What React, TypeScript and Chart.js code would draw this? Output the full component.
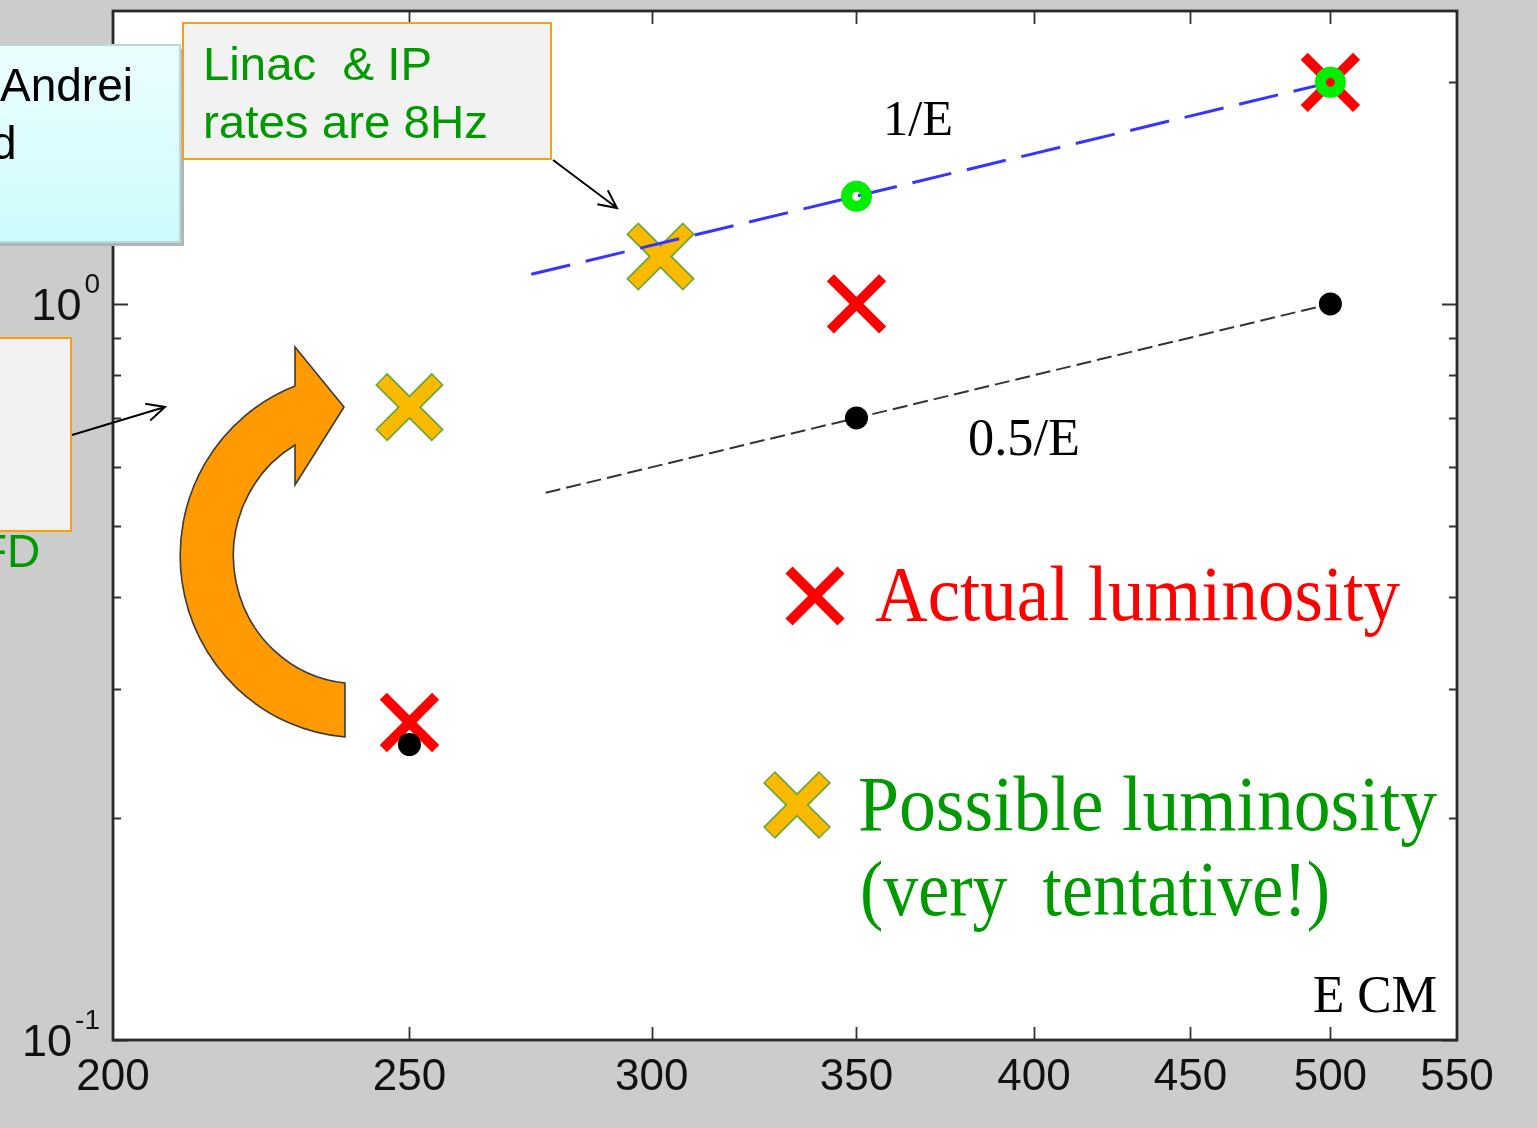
import React, { useEffect, useRef } from "react";
import { Chart, registerables } from "chart.js";

Chart.register(...registerables);

// ---- axis definitions ----
const X_MIN = 200;
const X_MAX = 550;
const Y_MIN = 0.1;
const Y_MAX = 2.5;
const xTickValues = [200, 250, 300, 350, 400, 450, 500, 550];
const xTickLabels = ["200", "250", "300", "350", "400", "450", "500", "550"];
const yMajorTicks = [0.1, 1];
const yMajorExponents = ["-1", "0"];
const yMinorTicks = [0.2, 0.3, 0.4, 0.5, 0.6, 0.7, 0.8, 0.9, 2];

// ---- data ----
const actualE = [250, 350, 500];
const actualLumi = [0.27, 1.0, 2.0];
const dotE = [250, 350, 500];
const dotLumi = [0.252, 0.7, 1.0];
const ringE = [350, 500];
const ringLumi = [1.4, 2.0];
const possibleE = [250, 302];
const possibleLumi = [0.724, 1.16];
const invLineE = [274, 500];
const invLineLumi = [1.097, 2.0];
const halfLineE = [277, 350, 500];
const halfLineLumi = [0.554, 0.7, 1.0];

const pts = (xs: number[], ys: number[]) => xs.map((x, i) => ({ x, y: ys[i] }));

const SANS = "'Liberation Sans', Arial, sans-serif";
const SERIF = "'Liberation Serif', 'Times New Roman', serif";
const GREEN = "#009a00";

const framePlugin = {
  id: "frame",
  beforeDraw(chart: any) {
    const { ctx, chartArea: a } = chart;
    ctx.save();
    ctx.fillStyle = "#ffffff";
    ctx.fillRect(a.left, a.top, a.right - a.left, a.bottom - a.top);
    ctx.restore();
  },
  afterDraw(chart: any) {
    const { ctx, chartArea: a, scales } = chart;
    const xs = scales.x;
    const ys = scales.y;
    ctx.save();
    ctx.strokeStyle = "#333333";
    ctx.lineWidth = 1.8;
    ctx.beginPath();
    xTickValues.forEach((v) => {
      if (v === X_MIN || v === X_MAX) return;
      const px = Math.round(xs.getPixelForValue(v)) + 0.5;
      ctx.moveTo(px, a.bottom);
      ctx.lineTo(px, a.bottom - 13);
      ctx.moveTo(px, a.top);
      ctx.lineTo(px, a.top + 13);
    });
    yMajorTicks.forEach((v) => {
      const py = Math.round(ys.getPixelForValue(v)) + 0.5;
      ctx.moveTo(a.left, py);
      ctx.lineTo(a.left + 15, py);
      ctx.moveTo(a.right, py);
      ctx.lineTo(a.right - 15, py);
    });
    yMinorTicks.forEach((v) => {
      const py = Math.round(ys.getPixelForValue(v)) + 0.5;
      ctx.moveTo(a.left, py);
      ctx.lineTo(a.left + 8, py);
      ctx.moveTo(a.right, py);
      ctx.lineTo(a.right - 8, py);
    });
    ctx.stroke();

    // frame
    ctx.lineWidth = 2.8;
    ctx.strokeStyle = "#2a2a2a";
    ctx.strokeRect(a.left, a.top, a.right - a.left, a.bottom - a.top);

    // x tick labels
    ctx.fillStyle = "#111111";
    ctx.font = `44px ${SANS}`;
    ctx.textAlign = "center";
    ctx.textBaseline = "alphabetic";
    xTickValues.forEach((v, i) => {
      const px = xs.getPixelForValue(v);
      ctx.fillText(xTickLabels[i], px, a.bottom + 50);
    });

    // y tick labels with superscript exponent
    yMajorTicks.forEach((v, i) => {
      const py = ys.getPixelForValue(v);
      const exp = yMajorExponents[i];
      ctx.font = `28px ${SANS}`;
      const ew = ctx.measureText(exp).width;
      ctx.font = `45px ${SANS}`;
      const bw = ctx.measureText("10").width;
      const right = 100;
      ctx.textAlign = "left";
      ctx.fillText("10", right - ew - bw - 3, py + 16);
      ctx.font = `28px ${SANS}`;
      ctx.fillText(exp, right - ew, py - 11);
    });
    ctx.restore();
  },
};

export default function App() {
  const canvasRef = useRef<HTMLCanvasElement | null>(null);

  useEffect(() => {
    if (!canvasRef.current) return;
    const chart = new Chart(canvasRef.current, {
      type: "scatter",
      data: {
        datasets: [
          {
            label: "0.5/E",
            data: pts(halfLineE, halfLineLumi),
            showLine: true,
            borderColor: "#333333",
            borderWidth: 2,
            borderDash: [15, 6],
            pointRadius: 0,
            order: 20,
          },
          {
            label: "Possible outline",
            data: pts(possibleE, possibleLumi),
            pointStyle: "crossRot",
            pointRadius: 40,
            pointBorderWidth: 17,
            borderColor: "#6aa83a",
            backgroundColor: "#6aa83a",
            order: 9,
          },
          {
            label: "Possible luminosity",
            data: pts(possibleE, possibleLumi),
            pointStyle: "crossRot",
            pointRadius: 38.5,
            pointBorderWidth: 13.5,
            borderColor: "#fbb900",
            backgroundColor: "#fbb900",
            order: 8,
          },
          {
            label: "1/E",
            data: pts(invLineE, invLineLumi),
            showLine: true,
            borderColor: "#3535ff",
            borderWidth: 3,
            borderDash: [40, 16],
            pointRadius: 0,
            order: 7,
          },
          {
            label: "Actual luminosity",
            data: pts(actualE, actualLumi),
            pointStyle: "crossRot",
            pointRadius: 37,
            pointBorderWidth: 10,
            borderColor: "#ff0000",
            backgroundColor: "#ff0000",
            order: 5,
          },
          {
            label: "dots",
            data: pts(dotE, dotLumi),
            pointStyle: "circle",
            pointRadius: 11.5,
            pointBorderWidth: 0,
            borderColor: "#000000",
            backgroundColor: "#000000",
            order: 4,
          },
          {
            label: "rings",
            data: pts(ringE, ringLumi),
            pointStyle: "circle",
            pointRadius: 10,
            pointBorderWidth: 11,
            borderColor: "#00ee00",
            backgroundColor: "rgba(0,0,0,0)",
            order: 3,
          },
        ],
      },
      options: {
        responsive: false,
        animation: false,
        events: [],
        layout: { autoPadding: false, padding: { left: 113, right: 80, top: 11, bottom: 88 } },
        plugins: { legend: { display: false }, tooltip: { enabled: false } },
        scales: {
          x: {
            type: "logarithmic",
            display: false,
            min: X_MIN,
            max: X_MAX,
            afterBuildTicks: (s: any) => {
              s.ticks = xTickValues.map((v) => ({ value: v }));
              s.min = X_MIN;
              s.max = X_MAX;
            },
          },
          y: {
            type: "logarithmic",
            display: false,
            min: Y_MIN,
            max: Y_MAX,
            afterBuildTicks: (s: any) => {
              s.ticks = yMajorTicks.map((v) => ({ value: v }));
              s.min = Y_MIN;
              s.max = Y_MAX;
            },
          },
        },
      },
      plugins: [framePlugin],
    } as any);
    return () => chart.destroy();
  }, []);

  const arrowHead = (x1: number, y1: number, x2: number, y2: number, len: number) => {
    const ang = Math.atan2(y2 - y1, x2 - x1);
    const a1 = ang + Math.PI - 0.45;
    const a2 = ang + Math.PI + 0.45;
    return `M ${x2 + len * Math.cos(a1)} ${y2 + len * Math.sin(a1)} L ${x2} ${y2} L ${x2 + len * Math.cos(a2)} ${y2 + len * Math.sin(a2)}`;
  };

  const xMark = (cx: number, cy: number, h: number) =>
    `M ${cx - h} ${cy - h} L ${cx + h} ${cy + h} M ${cx + h} ${cy - h} L ${cx - h} ${cy + h}`;

  return (
    <div
      style={{
        position: "absolute",
        left: 0,
        top: 0,
        width: 1537,
        height: 1128,
        background: "#cccccc",
        overflow: "hidden",
      }}
    >
      <canvas
        ref={canvasRef}
        width={1537}
        height={1128}
        style={{ position: "absolute", left: 0, top: 0, width: 1537, height: 1128 }}
      />
      <svg
        width={1537}
        height={1128}
        style={{ position: "absolute", left: 0, top: 0 }}
        xmlns="http://www.w3.org/2000/svg"
      >
        <defs>
          <linearGradient id="cyanGrad" x1="0" y1="0" x2="0" y2="1">
            <stop offset="0" stopColor="#edfeff" />
            <stop offset="1" stopColor="#ccfbfc" />
          </linearGradient>
        </defs>

        {/* cyan note box (cropped at left) */}
        <rect x={-10} y={49} width={194} height={197} fill="#b4b4b4" />
        <rect x={-10} y={45} width={190} height={197} fill="url(#cyanGrad)" stroke="#b8d8dc" strokeWidth={2} />
        <text x={0} y={101} fontFamily={SANS} fontSize={46} fill="#000" textLength={133} lengthAdjust="spacingAndGlyphs">Andrei</text>
        <text x={-9} y={159} fontFamily={SANS} fontSize={46} fill="#000">d</text>

        {/* orange note box top */}
        <rect x={183} y={23} width={368} height={136} fill="#f2f2f2" stroke="#ffa000" strokeWidth={2} />
        <text x={203} y={80} fontFamily={SANS} fontSize={46} fill={GREEN} style={{ whiteSpace: "pre" }} textLength={229} lengthAdjust="spacingAndGlyphs">
          Linac  &amp; IP
        </text>
        <text x={203} y={138} fontFamily={SANS} fontSize={46} fill={GREEN} textLength={285} lengthAdjust="spacingAndGlyphs">
          rates are 8Hz
        </text>

        {/* left orange note box */}
        <rect x={-10} y={338} width={81} height={193} fill="#f2f2f2" stroke="#ffa000" strokeWidth={2} />
        <text x={-21} y={567} fontFamily={SANS} fontSize={46} fill={GREEN}>FD</text>

        {/* thin arrows */}
        <path d={`M 553 160 L 617 208 ${arrowHead(553, 160, 617, 208, 20)}`} stroke="#000" strokeWidth={2} fill="none" />
        <path d={`M 72 435 L 165 407 ${arrowHead(72, 435, 165, 407, 20)}`} stroke="#000" strokeWidth={2} fill="none" />

        {/* big orange curved arrow */}
        <path
          d="M 345 737 A 180 182 0 0 1 295 386 L 295 347 L 344 407 L 295 485 L 295 445 A 124 128 0 0 0 345 683 Z"
          fill="#ff9a00"
          stroke="#3a3a3a"
          strokeWidth={1.6}
          strokeLinejoin="miter"
        />

        {/* line labels */}
        <text x={883} y={135} fontFamily={SERIF} fontSize={50} fill="#000" textLength={70} lengthAdjust="spacingAndGlyphs">1/E</text>
        <text x={968} y={455} fontFamily={SERIF} fontSize={52} fill="#000" textLength={112} lengthAdjust="spacingAndGlyphs">0.5/E</text>

        {/* legend */}
        <path d={xMark(815, 596, 26)} stroke="#ff0000" strokeWidth={10} fill="none" />
        <text x={875} y={620} fontFamily={SERIF} fontSize={78} fill="#ff0000" textLength={525} lengthAdjust="spacingAndGlyphs">
          Actual luminosity
        </text>
        <path d={xMark(797, 805, 28)} stroke="#6aa83a" strokeWidth={17} fill="none" />
        <path d={xMark(797, 805, 27)} stroke="#fbb900" strokeWidth={13.5} fill="none" />
        <text x={858} y={830} fontFamily={SERIF} fontSize={78} fill={GREEN} textLength={579} lengthAdjust="spacingAndGlyphs">
          Possible luminosity
        </text>
        <text x={860} y={915} fontFamily={SERIF} fontSize={78} fill={GREEN} textLength={470} lengthAdjust="spacingAndGlyphs" style={{ whiteSpace: "pre" }}>
          (very  tentative!)
        </text>

        {/* axis name */}
        <text x={1313} y={1012} fontFamily={SERIF} fontSize={52} fill="#000" textLength={124} lengthAdjust="spacingAndGlyphs">E CM</text>
      </svg>
    </div>
  );
}
